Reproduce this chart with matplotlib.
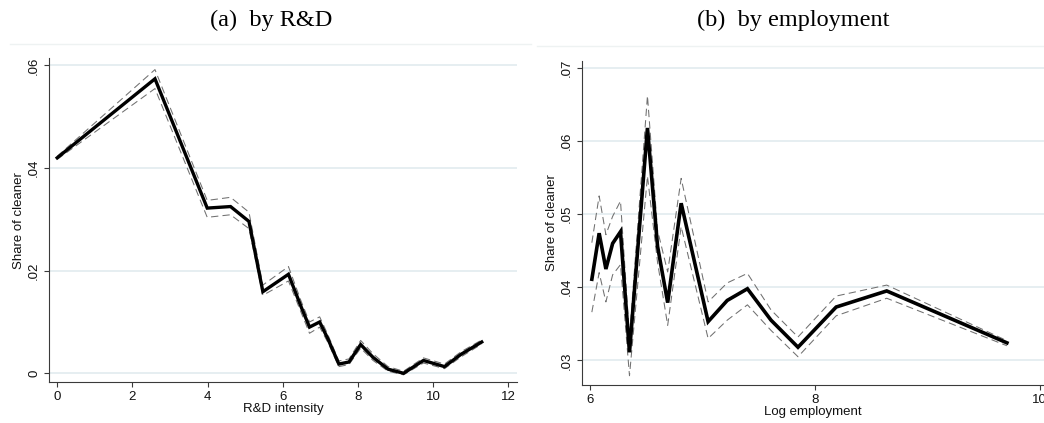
import matplotlib
matplotlib.use("Agg")
import matplotlib.pyplot as plt
from matplotlib.lines import Line2D

# ---- data: panel (a) by R&D ----
rd_x = [0, 2.60, 3.99, 4.61, 5.10, 5.47, 6.15, 6.49, 6.71, 6.98, 7.20, 7.49,
        7.76, 8.07, 8.40, 8.80, 9.21, 9.74, 10.30, 10.74, 11.29]
rd_y = [0.0420, 0.0574, 0.0322, 0.0325, 0.0296, 0.0159, 0.0193, 0.0129, 0.0090,
        0.0100, 0.0067, 0.0018, 0.0022, 0.0056, 0.0031, 0.0008, 0.0000, 0.0025,
        0.0013, 0.0037, 0.0061]
rd_hi = [0.0423, 0.0592, 0.0337, 0.0343, 0.0314, 0.0172, 0.0208, 0.0140, 0.0100,
         0.0110, 0.0075, 0.0024, 0.0028, 0.0064, 0.0038, 0.0013, 0.0004, 0.0030,
         0.0018, 0.0042, 0.0065]
rd_lo = [0.0417, 0.0555, 0.0304, 0.0309, 0.0282, 0.0152, 0.0180, 0.0118, 0.0078,
         0.0090, 0.0060, 0.0013, 0.0017, 0.0049, 0.0025, 0.0004, -0.0003, 0.0020,
         0.0009, 0.0032, 0.0057]

# ---- data: panel (b) by employment ----
emp_x = [6.015, 6.08, 6.14, 6.20, 6.27, 6.35, 6.51, 6.60, 6.69, 6.81, 7.05, 7.22,
         7.40, 7.61, 7.85, 8.19, 8.64, 9.71]
emp_y = [0.0411, 0.0474, 0.0425, 0.0460, 0.0476, 0.0311, 0.0618, 0.0456, 0.0379,
         0.0515, 0.0353, 0.0382, 0.0398, 0.0355, 0.0318, 0.0373, 0.0395, 0.0324]
emp_hi = [0.0461, 0.0525, 0.0472, 0.0497, 0.0518, 0.0332, 0.0662, 0.0478, 0.0421,
          0.0549, 0.0380, 0.0406, 0.0419, 0.0369, 0.0332, 0.0388, 0.0403, 0.0327]
emp_lo = [0.0366, 0.0420, 0.0380, 0.0417, 0.0431, 0.0279, 0.0552, 0.0434, 0.0348,
          0.0483, 0.0330, 0.0355, 0.0376, 0.0341, 0.0305, 0.0361, 0.0385, 0.0320]

rd_xticks = [0, 2, 4, 6, 8, 10, 12]
rd_yticks = [0, 0.02, 0.04, 0.06]
rd_ylabels = ["0", ".02", ".04", ".06"]
emp_xticks = [6, 8, 10]
emp_yticks = [0.03, 0.04, 0.05, 0.06, 0.07]
emp_ylabels = [".03", ".04", ".05", ".06", ".07"]

titles = ["(a)  by R&D", "(b)  by employment"]
xlabels = ["R&D intensity", "Log employment"]
ylabel = "Share of cleaner"

W, H = 1044, 423
fig = plt.figure(figsize=(W / 100, H / 100), dpi=100)
fig.patch.set_facecolor("white")

sans = "Liberation Sans"
serif = "Liberation Serif"
grid_c = "#e4edf0"
axis_c = "#3a3a3a"


def px_axes(x0, x1, ytop, ybot):
    return fig.add_axes([x0 / W, 1 - ybot / H, (x1 - x0) / W, (ybot - ytop) / H])


def style(ax, xticks, yticks, ylabels, xlab):
    for s in ["top", "right"]:
        ax.spines[s].set_visible(False)
    for s in ["left", "bottom"]:
        ax.spines[s].set_color(axis_c)
        ax.spines[s].set_linewidth(0.8)
    ax.set_xticks(xticks)
    ax.set_xticklabels([str(t) for t in xticks], fontfamily=sans, fontsize=9.5)
    ax.set_yticks(yticks)
    ax.set_yticklabels(ylabels, fontfamily=sans, fontsize=9.5, rotation=90,
                       va="center")
    ax.tick_params(axis="both", direction="out", length=3.6, width=0.8,
                   color=axis_c, labelcolor="#111111")
    ax.tick_params(axis="x", pad=3)
    ax.tick_params(axis="y", pad=3)
    for t in yticks:
        ax.axhline(t, color=grid_c, lw=1.3, zorder=0)
    ax.set_xlabel(xlab, fontfamily=sans, fontsize=9.5, labelpad=0, color="#111111")
    ax.set_ylabel(ylabel, fontfamily=sans, fontsize=9.5, labelpad=2, color="#111111")


dash = (0, (7, 4))
band_c = "#707070"

# panel (a)
ax1 = px_axes(49.3, 516.7, 58.3, 382)
ax1.set_xlim(-0.21, 12.22)
ax1.set_ylim(-0.0017, 0.0614)
style(ax1, rd_xticks, rd_yticks, rd_ylabels, xlabels[0])
ax1.plot(rd_x, rd_hi, color=band_c, lw=0.75, linestyle=dash, zorder=2)
ax1.plot(rd_x, rd_lo, color=band_c, lw=0.75, linestyle=dash, zorder=2)
ax1.plot(rd_x, rd_y, color="black", lw=2.4, zorder=3, solid_joinstyle="miter")

# panel (b)
ax2 = px_axes(582.3, 1044, 60.7, 384.5)
ax2.set_xlim(5.93, 10.04)
ax2.set_ylim(0.0267, 0.0710)
style(ax2, emp_xticks, emp_yticks, emp_ylabels, xlabels[1])
ax2.plot(emp_x, emp_hi, color=band_c, lw=0.75, linestyle=dash, zorder=2)
ax2.plot(emp_x, emp_lo, color=band_c, lw=0.75, linestyle=dash, zorder=2)
ax2.plot(emp_x, emp_y, color="black", lw=2.6, zorder=3, solid_joinstyle="miter")

# panel titles
fig.text(271 / W, 1 - 20 / H, titles[0], ha="center", va="center",
         fontfamily=serif, fontsize=17.5)
fig.text(793 / W, 1 - 20 / H, titles[1], ha="center", va="center",
         fontfamily=serif, fontsize=17.5)

# faint graph-region borders
fig.add_artist(Line2D([10 / W, 531 / W], [1 - 44 / H, 1 - 44 / H],
                      color="#eef2f2", lw=1.0))
fig.add_artist(Line2D([537 / W, 1.0], [1 - 46 / H, 1 - 46 / H],
                      color="#eef2f2", lw=1.0))

fig.savefig("out.png", dpi=100, facecolor="white")
